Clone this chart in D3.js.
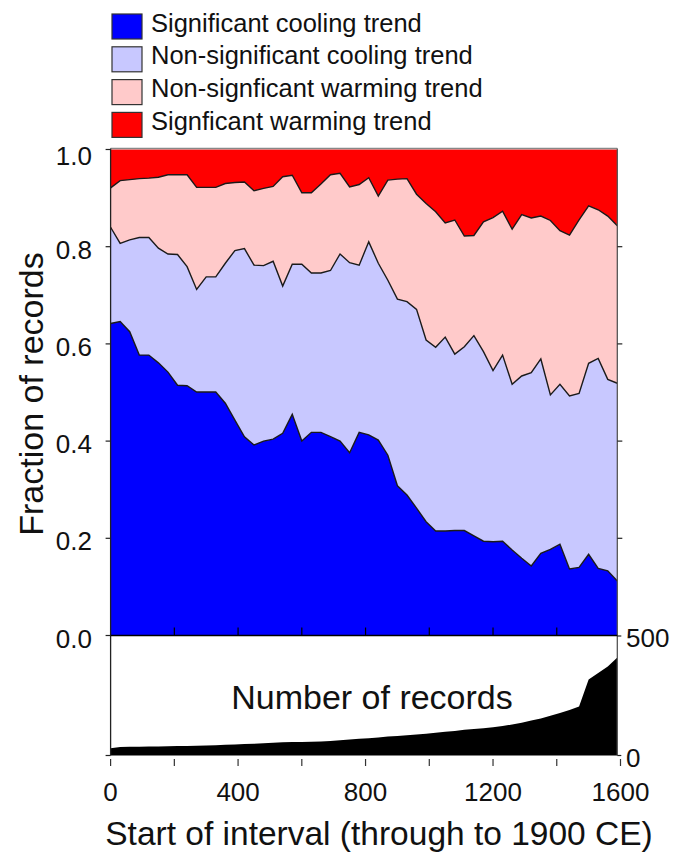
<!DOCTYPE html>
<html>
<head>
<meta charset="utf-8">
<script src="https://cdn.jsdelivr.net/npm/d3@7"></script>
<style>
  body { margin: 0; background: #fff; }
  svg { display: block; font-family: "Liberation Sans", Arial, sans-serif; }
</style>
</head>
<body>
<svg id="chart" width="675" height="859"></svg>
<script>
// start year of each interval (through to 1900 CE)
const years = [0, 30, 60, 90, 120, 150, 180, 210, 240, 270, 300, 330, 360, 390, 420, 450, 480, 510,
  540, 570, 600, 630, 660, 690, 720, 750, 780, 810, 840, 870, 900, 930, 960, 990, 1020, 1050,
  1080, 1110, 1140, 1170, 1200, 1230, 1260, 1290, 1320, 1350, 1380, 1410, 1440, 1470, 1500,
  1530, 1560, 1590];

// cumulative fractions (upper edge of each band)
const sigCoolTop = [0.642, 0.646, 0.625, 0.577, 0.577, 0.561, 0.542, 0.515, 0.514, 0.501, 0.501,
  0.501, 0.478, 0.443, 0.409, 0.392, 0.400, 0.404, 0.416, 0.455, 0.400, 0.418, 0.418, 0.409,
  0.400, 0.376, 0.418, 0.413, 0.402, 0.371, 0.308, 0.289, 0.262, 0.234, 0.215, 0.215, 0.216,
  0.216, 0.205, 0.194, 0.193, 0.194, 0.176, 0.159, 0.143, 0.169, 0.177, 0.188, 0.137, 0.140,
  0.167, 0.138, 0.133, 0.112];

const nonSigCoolTop = [0.840, 0.807, 0.814, 0.819, 0.819, 0.797, 0.785, 0.784, 0.759, 0.712, 0.738,
  0.738, 0.766, 0.792, 0.796, 0.762, 0.761, 0.770, 0.719, 0.764, 0.764, 0.746, 0.746, 0.751,
  0.785, 0.767, 0.762, 0.810, 0.766, 0.731, 0.692, 0.687, 0.671, 0.608, 0.593, 0.614, 0.579,
  0.594, 0.617, 0.584, 0.545, 0.577, 0.517, 0.534, 0.541, 0.569, 0.495, 0.517, 0.493, 0.498,
  0.560, 0.570, 0.527, 0.519];

const nonSigWarmTop = [0.921, 0.936, 0.938, 0.940, 0.941, 0.943, 0.948, 0.948, 0.948, 0.922, 0.922,
  0.922, 0.930, 0.932, 0.933, 0.915, 0.920, 0.924, 0.944, 0.947, 0.911, 0.911, 0.929, 0.948,
  0.951, 0.923, 0.928, 0.942, 0.904, 0.937, 0.939, 0.940, 0.908, 0.889, 0.872, 0.849, 0.855,
  0.822, 0.823, 0.851, 0.860, 0.873, 0.836, 0.866, 0.859, 0.863, 0.854, 0.833, 0.824, 0.855,
  0.884, 0.876, 0.863, 0.843];

// number of records per interval
const recordCounts = [30, 36, 37, 37, 38, 38, 39, 40, 40, 41, 42, 43, 45, 46, 48, 49, 51, 53, 55,
  56, 57, 58, 59, 61, 64, 67, 70, 72, 75, 79, 82, 85, 88, 91, 95, 99, 103, 108, 111, 114, 118,
  123, 130, 137, 146, 155, 166, 178, 190, 205, 318, 345, 372, 410];

const legendLabels = ['Significant cooling trend', 'Non-significant cooling trend',
  'Non-signficant warming trend', 'Signficant warming trend'];
const bandColors = ['#0000ff', '#c8c8ff', '#ffcaca', '#ff0000'];

const fracTicks = [0, 0.2, 0.4, 0.6, 0.8, 1.0];
const yearTicks = [0, 200, 400, 600, 800, 1000, 1200, 1400, 1600];
const yearLabels = [0, 400, 800, 1200, 1600];
const countTicks = [0, 500];

const svg = d3.select('#chart');

const x = d3.scaleLinear().domain([0, 1600]).range([110.6, 620.5]);
const y = d3.scaleLinear().domain([0, 1]).range([635.5, 149.5]);
const yc = d3.scaleLinear().domain([0, 500]).range([755.5, 636]);

const xLeft = x(years[0]);
const xRight = x(years[years.length - 1]);

// band boundaries: 0 | sigCool | nonSigCool | nonSigWarm | 1
const rows = years.map((yr, i) => ({
  yr,
  b: [0, sigCoolTop[i], nonSigCoolTop[i], nonSigWarmTop[i], 1],
}));

const plot = svg.append('g');

bandColors.forEach((col, k) => {
  const area = d3.area()
    .x((d) => x(d.yr))
    .y0((d) => y(d.b[k]))
    .y1((d) => y(d.b[k + 1]));
  plot.append('path').datum(rows).attr('d', area).attr('fill', col).attr('stroke', 'none');
});

// boundary lines between bands
[1, 2, 3].forEach((k) => {
  const line = d3.line().x((d) => x(d.yr)).y((d) => y(d.b[k]));
  plot.append('path').datum(rows).attr('d', line)
    .attr('fill', 'none').attr('stroke', '#1a1a1a').attr('stroke-width', 1.4)
    .attr('stroke-linejoin', 'miter');
});

// number of records panel
const countArea = d3.area()
  .x((d, i) => x(years[i]))
  .y0(yc(0))
  .y1((d) => yc(d));
svg.append('path').datum(recordCounts).attr('d', countArea).attr('fill', '#000');

// frames
svg.append('line').attr('x1', xLeft).attr('x2', xRight).attr('y1', y(1) - 1).attr('y2', y(1) - 1)
  .attr('stroke', '#888').attr('stroke-width', 1.5);
svg.append('line').attr('x1', xLeft).attr('x2', xLeft).attr('y1', y(1) - 1).attr('y2', yc(0))
  .attr('stroke', '#222').attr('stroke-width', 1.3);
svg.append('line').attr('x1', xRight).attr('x2', xRight).attr('y1', y(1) - 1).attr('y2', yc(0))
  .attr('stroke', '#555').attr('stroke-width', 1.3);
svg.append('line').attr('x1', xLeft).attr('x2', xRight).attr('y1', y(0)).attr('y2', y(0))
  .attr('stroke', '#000').attr('stroke-width', 1.3);

// inner ticks at bottom of fraction panel
svg.append('g').selectAll('line')
  .data(yearTicks.filter((t) => t > 0 && t < 1600))
  .join('line')
  .attr('x1', (d) => x(d)).attr('x2', (d) => x(d))
  .attr('y1', y(0)).attr('y2', y(0) - 8)
  .attr('stroke', '#000').attr('stroke-width', 1.2);

// left fraction ticks + labels
const fracG = svg.append('g');
fracG.selectAll('line.l').data(fracTicks).join('line').attr('class', 'l')
  .attr('x1', xLeft - 5).attr('x2', xLeft).attr('y1', (d) => y(d)).attr('y2', (d) => y(d))
  .attr('stroke', '#222').attr('stroke-width', 1.2);
fracG.selectAll('line.r').data(fracTicks.filter((d) => d > 0 && d < 1)).join('line').attr('class', 'r')
  .attr('x1', xRight).attr('x2', xRight + 5).attr('y1', (d) => y(d)).attr('y2', (d) => y(d))
  .attr('stroke', '#222').attr('stroke-width', 1.2);
fracG.selectAll('text').data(fracTicks).join('text')
  .attr('x', 92).attr('y', (d) => Math.max(y(d) + 12, 165))
  .attr('text-anchor', 'end').attr('font-size', 26).attr('fill', '#111')
  .text((d) => d.toFixed(1));

// count ticks + labels (right side)
const cntG = svg.append('g');
cntG.selectAll('line.l').data([0]).join('line').attr('class', 'l')
  .attr('x1', xLeft - 5).attr('x2', xLeft).attr('y1', (d) => yc(d)).attr('y2', (d) => yc(d))
  .attr('stroke', '#222').attr('stroke-width', 1.2);
cntG.selectAll('line.r').data(countTicks).join('line').attr('class', 'r')
  .attr('x1', xRight).attr('x2', xRight + 4).attr('y1', (d) => yc(d)).attr('y2', (d) => yc(d))
  .attr('stroke', '#222').attr('stroke-width', 1.2);
cntG.selectAll('text').data(countTicks).join('text')
  .attr('x', 626).attr('y', (d) => yc(d) + 11)
  .attr('font-size', 26).attr('fill', '#111')
  .text((d) => d);

// x ticks below
const xG = svg.append('g');
xG.selectAll('line').data(yearTicks).join('line')
  .attr('x1', (d) => x(d)).attr('x2', (d) => x(d))
  .attr('y1', 759).attr('y2', 766)
  .attr('stroke', '#333').attr('stroke-width', 1.2);
xG.selectAll('text').data(yearLabels).join('text')
  .attr('x', (d) => x(d)).attr('y', 801)
  .attr('text-anchor', 'middle').attr('font-size', 26).attr('fill', '#111')
  .text((d) => d);

// titles
svg.append('text').attr('x', 379).attr('y', 845).attr('text-anchor', 'middle')
  .attr('font-size', 33.5).attr('fill', '#111')
  .text('Start of interval (through to 1900 CE)');
svg.append('text').attr('transform', 'translate(43,394) rotate(-90)').attr('text-anchor', 'middle')
  .attr('font-size', 34).attr('fill', '#111')
  .text('Fraction of records');
svg.append('text').attr('x', 372).attr('y', 709).attr('text-anchor', 'middle')
  .attr('font-size', 34).attr('fill', '#111')
  .text('Number of records');

// legend
const leg = svg.append('g').selectAll('g').data(legendLabels).join('g')
  .attr('transform', (d, i) => `translate(112,${14 + i * 32.8})`);
leg.append('rect').attr('width', 30).attr('height', 25)
  .attr('fill', (d, i) => bandColors[i]).attr('stroke', '#333').attr('stroke-width', 1.2);
leg.append('text').attr('x', 39).attr('y', 17.5)
  .attr('font-size', 25.5).attr('fill', '#111')
  .text((d) => d);
</script>
</body>
</html>
